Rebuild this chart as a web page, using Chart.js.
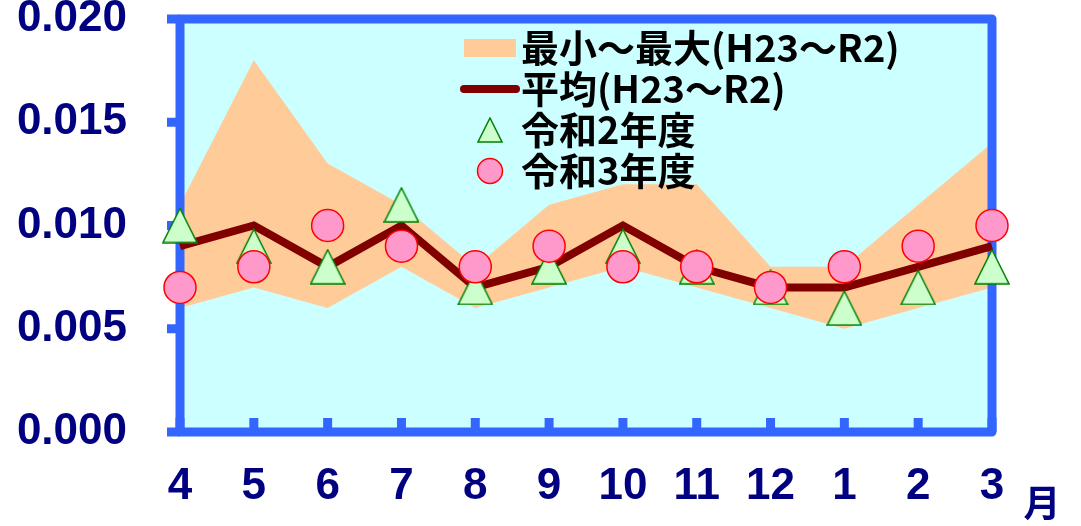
<!DOCTYPE html>
<html>
<head>
<meta charset="utf-8">
<script src="https://cdn.jsdelivr.net/npm/chart.js@4.4.0/dist/chart.umd.min.js"></script>
<style>
  body { margin: 0; background: #ffffff; }
</style>
</head>
<body>
<canvas id="myChart" width="1081" height="526"></canvas>
<script>
// 月 (4月〜3月)
const months = ['4', '5', '6', '7', '8', '9', '10', '11', '12', '1', '2', '3'];

// 最小〜最大 (H23〜R2)
const maxVals = [0.011, 0.018, 0.013, 0.011, 0.008, 0.011, 0.012, 0.012, 0.008, 0.008, 0.011, 0.014];
const minVals = [0.006, 0.007, 0.006, 0.008, 0.006, 0.007, 0.008, 0.007, 0.006, 0.005, 0.006, 0.007];

// 平均 (H23〜R2)
const avgVals = [0.009, 0.010, 0.008, 0.010, 0.007, 0.008, 0.010, 0.008, 0.007, 0.007, 0.008, 0.009];

// 令和2年度 / 令和3年度
const r2Vals = [0.010, 0.009, 0.008, 0.011, 0.007, 0.008, 0.009, 0.008, 0.007, 0.006, 0.007, 0.008];
const r3Vals = [0.007, 0.008, 0.010, 0.009, 0.008, 0.009, 0.008, 0.008, 0.007, 0.008, 0.009, 0.010];

const legendNames = ['最小～最大(H23～R2)', '平均(H23～R2)', '令和2年度', '令和3年度'];

const BLUE = '#3366ff';
const NAVY = '#000080';

// triangle marker (same shape as the original, centred on the point)
function makeTriangle(size) {
  const c = document.createElement('canvas');
  c.width = size;
  c.height = size;
  const g = c.getContext('2d');
  g.beginPath();
  g.moveTo(size / 2, 1);
  g.lineTo(size - 1, size - 1);
  g.lineTo(1, size - 1);
  g.closePath();
  g.fillStyle = '#ccffcc';
  g.fill();
  g.lineWidth = 1.5;
  g.strokeStyle = '#008000';
  g.stroke();
  return c;
}
const triangle = makeTriangle(36);
const smallTriangle = makeTriangle(26);

// fondo celeste
const backgroundPlugin = {
  id: 'plotBackground',
  beforeDraw(chart) {
    const a = chart.chartArea;
    const ctx = chart.ctx;
    ctx.save();
    ctx.fillStyle = '#ccffff';
    ctx.fillRect(a.left, a.top, a.right - a.left, a.bottom - a.top);
    ctx.restore();
  }
};

// marco azul y marcas de los ejes
const framePlugin = {
  id: 'plotFrame',
  beforeDatasetsDraw(chart) {
    const a = chart.chartArea;
    const ctx = chart.ctx;
    const y = chart.scales.y;
    const x = chart.scales.x;
    ctx.save();
    ctx.strokeStyle = BLUE;
    ctx.lineWidth = 9;
    ctx.lineJoin = 'round';
    ctx.strokeRect(a.left, a.top, a.right - a.left, a.bottom - a.top);
    ctx.lineCap = 'butt';
    y.ticks.forEach((t, i) => {
      const py = y.getPixelForTick(i);
      ctx.beginPath();
      ctx.moveTo(a.left - 13, py);
      ctx.lineTo(a.left, py);
      ctx.stroke();
    });
    x.ticks.forEach((t, i) => {
      const px = x.getPixelForTick(i);
      ctx.beginPath();
      ctx.moveTo(px, a.bottom - 14);
      ctx.lineTo(px, a.bottom);
      ctx.stroke();
    });
    ctx.restore();
  }
};

// leyenda y unidad "月"
const legendPlugin = {
  id: 'customLegend',
  afterDraw(chart) {
    const ctx = chart.ctx;
    const rows = [48, 89, 130, 171];
    ctx.save();
    // simbolos
    ctx.fillStyle = '#ffcc99';
    ctx.fillRect(464, 39, 52, 18);
    ctx.strokeStyle = '#800000';
    ctx.lineWidth = 8;
    ctx.lineCap = 'round';
    ctx.beginPath();
    ctx.moveTo(464, rows[1]);
    ctx.lineTo(516, rows[1]);
    ctx.stroke();
    ctx.drawImage(smallTriangle, 490 - 13, rows[2] - 13);
    ctx.beginPath();
    ctx.arc(490, rows[3], 12.5, 0, Math.PI * 2);
    ctx.fillStyle = '#ff99cc';
    ctx.fill();
    ctx.lineWidth = 1.5;
    ctx.strokeStyle = '#ff0000';
    ctx.stroke();
    // textos
    ctx.fillStyle = '#000000';
    ctx.font = 'bold 38px "Noto Sans CJK JP"';
    ctx.textBaseline = 'middle';
    ctx.textAlign = 'left';
    legendNames.forEach((name, i) => ctx.fillText(name, 521, rows[i]));
    ctx.fillStyle = NAVY;
    ctx.font = 'bold 37px "Noto Sans CJK JP"';
    ctx.textAlign = 'center';
    ctx.fillText('月', 1042, 503);
    ctx.restore();
  }
};

const data = {
  labels: months,
  datasets: [
    {
      label: legendNames[3],
      data: r3Vals,
      showLine: false,
      pointStyle: 'circle',
      pointRadius: 16,
      pointHoverRadius: 16,
      pointBackgroundColor: '#ff99cc',
      pointBorderColor: '#ff0000',
      pointBorderWidth: 1.5,
      clip: false,
      order: 0
    },
    {
      label: legendNames[2],
      data: r2Vals,
      showLine: false,
      pointStyle: triangle,
      pointRadius: 18,
      pointHoverRadius: 18,
      clip: false,
      order: 1
    },
    {
      label: legendNames[1],
      data: avgVals,
      borderColor: '#800000',
      borderWidth: 8,
      borderJoinStyle: 'miter',
      pointRadius: 0,
      tension: 0,
      fill: false,
      order: 2
    },
    {
      label: 'max',
      data: maxVals,
      borderWidth: 0,
      pointRadius: 0,
      backgroundColor: '#ffcc99',
      fill: '+1',
      order: 3
    },
    {
      label: 'min',
      data: minVals,
      borderWidth: 0,
      pointRadius: 0,
      fill: false,
      order: 4
    }
  ]
};

const config = {
  type: 'line',
  data,
  options: {
    responsive: false,
    animation: false,
    devicePixelRatio: 1,
    layout: {
      padding: { top: 18, right: 89, left: 0, bottom: 0 }
    },
    plugins: {
      legend: { display: false },
      tooltip: { enabled: false },
      filler: { drawTime: 'beforeDatasetsDraw' }
    },
    scales: {
      x: {
        offset: false,
        grid: { display: false },
        border: { display: false },
        ticks: {
          color: NAVY,
          padding: 20,
          maxRotation: 0,
          autoSkip: false,
          font: { family: '"Liberation Sans", Arial, sans-serif', size: 44, weight: 'bold' }
        },
        afterFit(scale) {
          scale.height = 94;
          scale.paddingLeft = 0;
          scale.paddingRight = 0;
        }
      },
      y: {
        min: 0,
        max: 0.02,
        grid: { display: false },
        border: { display: false },
        ticks: {
          stepSize: 0.005,
          color: NAVY,
          padding: 45,
          font: { family: '"Liberation Sans", Arial, sans-serif', size: 44, weight: 'bold' },
          callback: (v) => v.toFixed(3)
        },
        afterFit(scale) {
          scale.width = 180;
          scale.paddingTop = 0;
          scale.paddingBottom = 0;
        }
      }
    }
  },
  plugins: [backgroundPlugin, framePlugin, legendPlugin]
};

const myChart = new Chart(
  document.getElementById('myChart'),
  config
);
</script>
</body>
</html>
